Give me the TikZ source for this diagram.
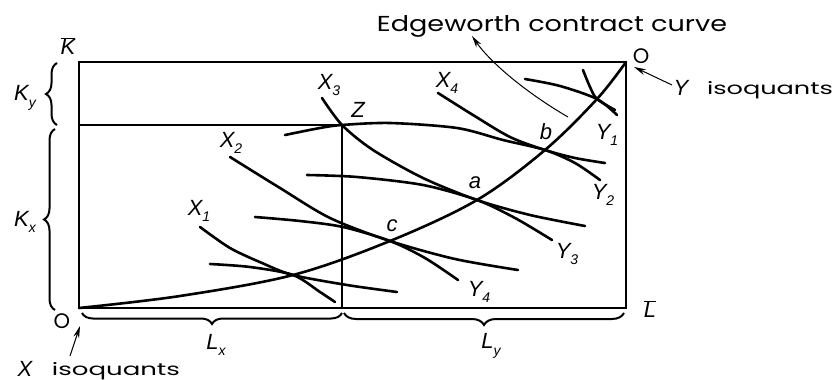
\documentclass[tikz,border=0pt]{standalone}
\usepackage{fontspec}
\setmainfont{Liberation Sans}
\newfontfamily\txtf{Poppins}
\usetikzlibrary{arrows.meta,decorations.pathreplacing}
\newcommand\sbs[2]{#1\raisebox{-0.3em}{\fontsize{14}{14}\selectfont #2}}
\begin{document}
\begin{tikzpicture}[x=1pt,y=-1pt,
  curve/.style={line width=2.6pt, line cap=round},
  frame/.style={line width=1.8pt},
  guide/.style={line width=1.3pt},
  bracestyle/.style={line width=2pt, decorate, decoration={brace, amplitude=#1}},
  lab/.style={font=\fontsize{22}{22}\selectfont\itshape, inner sep=0pt},
  word/.style={font=\txtf, inner sep=0pt},
  pointer/.style={line width=1pt, -{Stealth[length=12pt,width=6pt]}},
]
\useasboundingbox (0,0) rectangle (836,380);
% frame
\coordinate (O1) at (79,308);
\coordinate (O2) at (626,62);
\coordinate (TL) at (79,62);
\coordinate (BR) at (626,308);
\draw[frame] (TL) rectangle (BR);
% Z guides
\coordinate (Z) at (342,125);
\coordinate (Zl) at (79,125);
\coordinate (Zb) at (342,308);
\draw[guide] (Zl) -- (Z) -- (Zb);
% key points
\coordinate (q) at (293,275);
\coordinate (c) at (390,241);
\coordinate (a) at (477,200);
\coordinate (b) at (545,150);
\coordinate (e) at (597,99);
% contract curve
\draw[curve] plot[smooth, tension=0.55] coordinates {(O1) (180,296) (q) (c) (a) (b) (e) (O2)};
% X isoquants
\draw[curve] plot[smooth] coordinates {(200,227) (230,248) (262,263) (q) (347,285) (397,292)};
\draw[curve] plot[smooth] coordinates {(230,157) (280,188) (330,218) (c) (455,259) (518,270)};
\draw[curve] plot[smooth] coordinates {(322,98) (Z) (373,150) (423,178) (a) (530,215) (585,226)};
\draw[curve] plot[smooth] coordinates {(438,93) (473,115) (510,137) (b) (575,158) (605,163)};
\draw[curve] plot[smooth] coordinates {(583,70) (590,87) (e) (615,110)};
% Y isoquants
\draw[curve] plot[smooth] coordinates {(210,264) (250,267) (q) (320,292) (335,302)};
\draw[curve] plot[smooth] coordinates {(255,217) (300,221) (343,227) (c) (425,258) (458,280)};
\draw[curve] plot[smooth] coordinates {(307,175) (357,177) (423,185) (a) (515,218) (552,240)};
\draw[curve] plot[smooth] coordinates {(285,135) (320,128) (Z) (390,123) (457,128) (503,140) (b) (575,163) (600,180)};
\draw[curve] plot[smooth] coordinates {(525,79) (560,86) (e) (617,115)};
% braces
\draw[bracestyle=11] (57,125) -- (57,63);
\draw[bracestyle=11] (55,310) -- (55,129);
\draw[bracestyle=11] (342,313) -- (82,313);
\draw[bracestyle=12] (624,313) -- (344,313);
% labels
\node[lab] (Kbar) at (68,46) {$\overline{\hbox{\itshape K}}$};
\node[lab] (Ky) at (25,98) {\sbs{K}{y}};
\node[lab] (Kx) at (25,222) {\sbs{K}{x}};
\node[lab] (Lx) at (216,345) {\sbs{L}{x}};
\node[lab] (Ly) at (491,346) {\sbs{L}{y}};
\node[lab] (Lbar) at (650,309) {$\overline{\hbox{\itshape L}}$};
\node[lab] (X1) at (199,211) {\sbs{X}{1}};
\node[lab] (X2) at (231,143) {\sbs{X}{2}};
\node[lab] (X3) at (329,85) {\sbs{X}{3}};
\node[lab] (X4) at (447,83) {\sbs{X}{4}};
\node[lab] (Zlab) at (358,110) {Z};
\node[lab] (alab) at (475,183) {a};
\node[lab] (blab) at (546,132) {b};
\node[lab] (clab) at (392,226) {c};
\node[lab] (Y1) at (607,135) {\sbs{Y}{1}};
\node[lab] (Y2) at (603,195) {\sbs{Y}{2}};
\node[lab] (Y3) at (567,254) {\sbs{Y}{3}};
\node[lab] (Y4) at (479,292) {\sbs{Y}{4}};
% origins
\node[word, font=\txtf\fontsize{21}{21}\selectfont] (oX) at (62,321) {O};
\node[word, font=\txtf\fontsize{21}{21}\selectfont] (oY) at (641,56) {O};
% captions
\node[word, anchor=base] (ecl) at (552,31) {\resizebox{350pt}{16pt}{Edgeworth contract curve}};
\node[lab] (Ycap) at (681,88) {Y};
\node[word, anchor=base] (Yiso) at (770,94) {\resizebox{126pt}{13pt}{isoquants}};
\node[lab] (Xcap) at (25,369) {X};
\node[word, anchor=base] (Xiso) at (116,375) {\resizebox{128pt}{13pt}{isoquants}};
% pointers
\coordinate (ecFrom) at (568,117);
\coordinate (ecTo) at (472,36);
\draw[pointer] (ecFrom) .. controls (525,92) and (490,62) .. (ecTo);
\coordinate (yFrom) at (672,85);
\coordinate (yTo) at (634,67);
\draw[pointer] (yFrom) -- (yTo);
\coordinate (xFrom) at (70,356);
\coordinate (xTo) at (80,326);
\draw[pointer] (xFrom) -- (xTo);
\end{tikzpicture}
\end{document}
